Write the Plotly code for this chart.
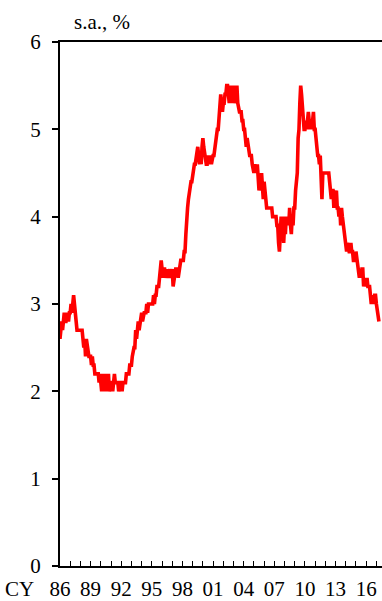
import plotly.graph_objects as go

# Monthly values (s.a., %), Jan 1986 onward
rate_1986 = [2.6, 2.7, 2.8, 2.7, 2.8, 2.9, 2.8, 2.8, 2.9, 2.8, 2.8, 2.9]
rate_1987 = [2.9, 3.0, 2.9, 3.0, 3.1, 3.0, 2.8, 2.8, 2.7, 2.7, 2.7, 2.7]
rate_1988 = [2.7, 2.7, 2.7, 2.6, 2.5, 2.6, 2.4, 2.6, 2.5, 2.4, 2.4, 2.4]
rate_1989 = [2.4, 2.3, 2.4, 2.3, 2.3, 2.2, 2.2, 2.2, 2.2, 2.2, 2.1, 2.2]
rate_1990 = [2.1, 2.0, 2.2, 2.1, 2.0, 2.2, 2.1, 2.0, 2.1, 2.2, 2.0, 2.1]
rate_1991 = [2.1, 2.1, 2.0, 2.1, 2.2, 2.1, 2.1, 2.1, 2.1, 2.0, 2.1, 2.1]
rate_1992 = [2.1, 2.0, 2.1, 2.1, 2.1, 2.1, 2.2, 2.2, 2.2, 2.2, 2.3, 2.3]
rate_1993 = [2.3, 2.4, 2.5, 2.5, 2.5, 2.7, 2.6, 2.7, 2.8, 2.7, 2.8, 2.9]
rate_1994 = [2.9, 2.8, 2.9, 2.9, 2.9, 2.9, 3.0, 2.9, 3.0, 3.0, 3.0, 3.0]
rate_1995 = [3.0, 3.0, 3.1, 3.0, 3.1, 3.1, 3.2, 3.2, 3.2, 3.3, 3.4, 3.5]
rate_1996 = [3.4, 3.3, 3.4, 3.4, 3.3, 3.4, 3.4, 3.3, 3.4, 3.4, 3.3, 3.4]
rate_1997 = [3.4, 3.2, 3.3, 3.4, 3.4, 3.4, 3.4, 3.3, 3.4, 3.4, 3.5, 3.5]
rate_1998 = [3.5, 3.5, 3.6, 3.6, 3.8, 4.1, 4.1, 4.2, 4.3, 4.3, 4.4, 4.4]
rate_1999 = [4.5, 4.5, 4.6, 4.6, 4.7, 4.8, 4.8, 4.7, 4.6, 4.7, 4.6, 4.8]
rate_2000 = [4.9, 4.8, 4.7, 4.6, 4.6, 4.6, 4.7, 4.6, 4.7, 4.7, 4.6, 4.7]
rate_2001 = [4.7, 4.7, 4.8, 4.8, 4.9, 5.0, 5.0, 5.1, 5.3, 5.4, 5.3, 5.2]
rate_2002 = [5.3, 5.3, 5.4, 5.4, 5.5, 5.5, 5.4, 5.3, 5.4, 5.5, 5.3, 5.4]
rate_2003 = [5.5, 5.3, 5.4, 5.5, 5.5, 5.3, 5.2, 5.2, 5.2, 5.2, 5.1, 5.1]
rate_2004 = [5.0, 5.0, 4.9, 4.8, 4.9, 4.8, 4.7, 4.7, 4.7, 4.7, 4.6, 4.5]
rate_2005 = [4.5, 4.6, 4.5, 4.5, 4.6, 4.4, 4.3, 4.4, 4.3, 4.5, 4.4, 4.2]
rate_2006 = [4.4, 4.2, 4.2, 4.1, 4.1, 4.1, 4.1, 4.1, 4.1, 4.1, 4.0, 4.0]
rate_2007 = [4.0, 4.0, 4.0, 3.9, 3.9, 3.7, 3.6, 3.8, 4.0, 3.9, 4.0, 3.7]
rate_2008 = [3.9, 3.8, 4.0, 3.9, 4.0, 3.9, 4.1, 3.9, 3.8, 4.0, 3.9, 4.1]
rate_2009 = [4.1, 4.3, 4.4, 4.5, 4.9, 5.0, 5.3, 5.5, 5.4, 5.2, 5.1, 5.0]
rate_2010 = [5.0, 5.1, 5.0, 5.1, 5.2, 5.1, 5.0, 5.1, 5.0, 5.1, 5.2, 5.0]
rate_2011 = [5.0, 4.9, 4.7, 4.7, 4.7, 4.6, 4.7, 4.5, 4.2, 4.5, 4.5, 4.5]
rate_2012 = [4.5, 4.5, 4.5, 4.5, 4.5, 4.4, 4.3, 4.2, 4.3, 4.3, 4.1, 4.3]
rate_2013 = [4.2, 4.3, 4.1, 4.1, 4.0, 4.1, 3.9, 4.1, 4.0, 3.9, 3.8, 3.7]
rate_2014 = [3.7, 3.6, 3.7, 3.6, 3.6, 3.6, 3.7, 3.6, 3.6, 3.5, 3.5, 3.5]
rate_2015 = [3.6, 3.5, 3.4, 3.3, 3.3, 3.4, 3.3, 3.4, 3.4, 3.2, 3.3, 3.3]
rate_2016 = [3.2, 3.3, 3.2, 3.2, 3.2, 3.1, 3.0, 3.1, 3.0, 3.0, 3.1, 3.1]
rate_2017 = [3.0, 2.9, 2.8, 2.8]

start_year = 1986
yearly = [rate_1986, rate_1987, rate_1988, rate_1989, rate_1990, rate_1991,
          rate_1992, rate_1993, rate_1994, rate_1995, rate_1996, rate_1997,
          rate_1998, rate_1999, rate_2000, rate_2001, rate_2002, rate_2003,
          rate_2004, rate_2005, rate_2006, rate_2007, rate_2008, rate_2009,
          rate_2010, rate_2011, rate_2012, rate_2013, rate_2014, rate_2015,
          rate_2016, rate_2017]

tick_years = list(range(1986, 2018))
label_years = ["86", "89", "92", "95", "98", "01", "04", "07", "10", "13", "16"]
y_ticks = [0, 1, 2, 3, 4, 5, 6]

xs, ys = [], []
for i, vals in enumerate(yearly):
    for m, v in enumerate(vals):
        xs.append(start_year + i + m / 12.0)
        ys.append(v)

ticktext = []
for yr in tick_years:
    s = "%02d" % (yr % 100)
    ticktext.append(s if s in label_years and (yr - 1986) % 3 == 0 else "")

font = dict(family="'Liberation Serif', 'Times New Roman', 'DejaVu Serif', serif",
            size=21, color="black")

fig = go.Figure()
fig.add_trace(go.Scatter(x=xs, y=ys, mode="lines",
                         line=dict(color="#ff0000", width=3.6),
                         hoverinfo="skip", showlegend=False))

fig.update_layout(
    width=382, height=601,
    margin=dict(l=60, r=0, t=42, b=35, autoexpand=False),
    paper_bgcolor="white", plot_bgcolor="white",
    font=font,
    xaxis=dict(range=[1986, 2017.55], tickvals=tick_years, ticktext=ticktext,
               ticks="inside", ticklen=5, tickwidth=1, tickcolor="black",
               showline=True, linecolor="black", linewidth=2, mirror=True,
               showgrid=False, zeroline=False, tickangle=0, tickfont=font,
               ticklabelstandoff=3, automargin=False),
    yaxis=dict(range=[0, 6], tickvals=y_ticks, ticks="outside", ticklen=6,
               tickwidth=2, tickcolor="black", showline=True, linecolor="black",
               linewidth=2, showgrid=False, zeroline=False, tickfont=font,
               ticklabelstandoff=7, automargin=False),
    annotations=[
        dict(text="s.a., %", xref="paper", yref="paper", x=0.037, y=1.0,
             xanchor="left", yanchor="bottom", yshift=6, showarrow=False, font=font),
        dict(text="CY", xref="paper", yref="paper", x=0, y=0,
             xanchor="right", yanchor="top", xshift=-24, yshift=-9,
             showarrow=False, font=font),
    ],
)

fig.write_html("out.html", config={"displayModeBar": False},
               post_script="document.body.style.margin='0';")
